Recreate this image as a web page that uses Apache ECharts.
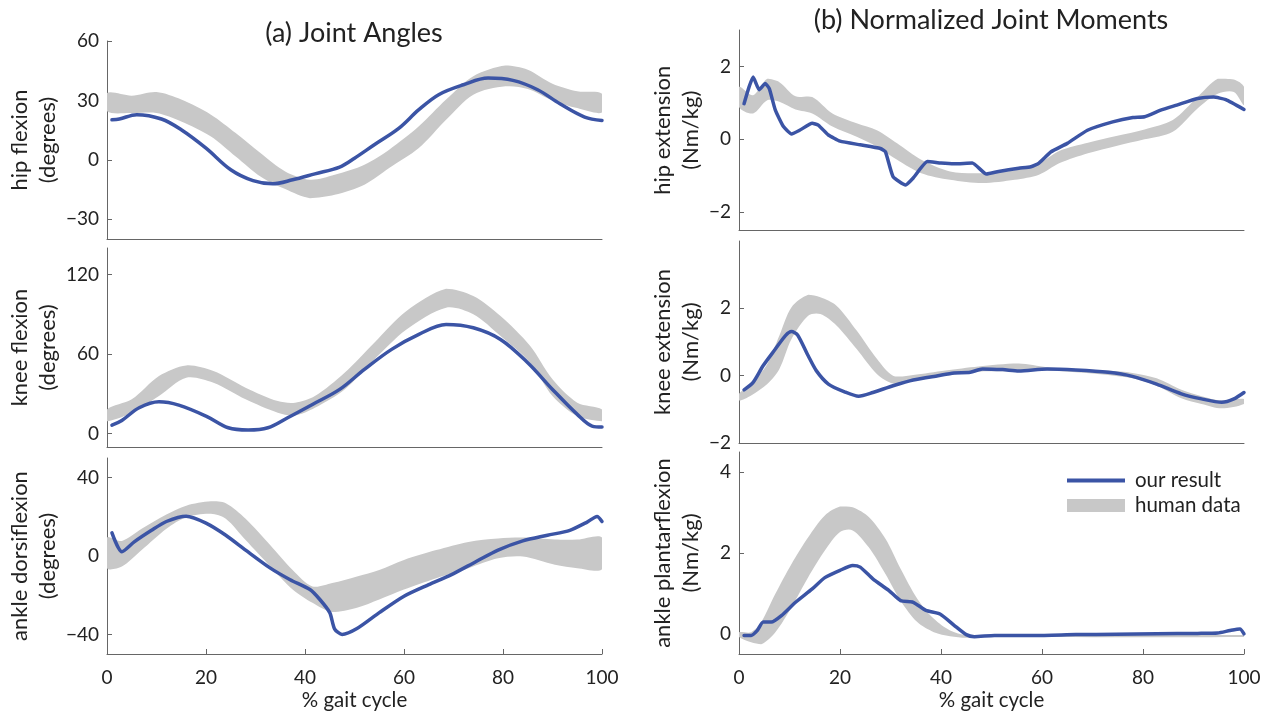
<!DOCTYPE html>
<html><head><meta charset="utf-8">
<script src="https://cdn.jsdelivr.net/npm/echarts@6/dist/echarts.min.js"></script>
<style>html,body{margin:0;padding:0;background:#fff}#c{width:1265px;height:713px}</style>
</head><body><div id="c"></div>
<script>
// ---------- data ----------
const xTicks = [0, 20, 40, 60, 80, 100];

// (a) hip flexion
const hipFlexTicks = [-30, 0, 30, 60];
const hipFlexX = [1,2.5,6,11,15,20,25,29.5,33.5,37.5,42,47,50,54,59,63,67,72,77,82,87,91.5,96.5,100];
const hipFlexOurs = [20.2,20.6,22.8,20.6,15.2,5.9,-5,-10.5,-12.1,-10.1,-7.1,-3.7,0.8,7.6,16,25.3,32.9,37.9,41.3,40.1,35.4,28.3,21.6,19.9];
const hipFlexBandX = [0,5,10,15,21,26,31,36,41,46,52,57,63,68.5,74,80.5,85,90,95,100];
const hipFlexHi = [33.7,32.4,34.2,30.4,22.8,13.5,3.4,-5.9,-10.1,-7.6,-2.5,5.1,16.9,30.4,42.2,47.6,45.5,38.4,34.6,33.4];
const hipFlexLo = [24.5,23.6,23.6,19.4,11.8,1.7,-8.4,-14.8,-19.4,-17.7,-12.6,-4.2,5.9,20.2,32.9,37.1,35.8,30,26.1,23.9];

// (a) knee flexion
const kneeFlexTicks = [0, 60, 120];
const kneeFlexX = [1,3,6.5,10.5,14.5,20,24.5,28.5,32.5,36.5,41.5,47,52,57.5,63,68.5,74,79.5,85,90,95,98,100];
const kneeFlexOurs = [6.5,10,19.6,24.1,21.6,13.3,4.5,2.8,4.5,12.1,22.1,33.4,48.5,63.6,74.9,82.4,79.9,71.1,53.5,33.4,14.6,5.8,5];
const kneeFlexBandX = [0,5,10.5,16,21.5,28,34.5,38,42,48,54,60.5,68.5,74,79.5,85.5,90,95,100];
const kneeFlexHi = [18.3,25.9,43.5,51.5,47.2,34.7,24.6,23.4,28.4,46,68.6,92.5,109.3,103.8,88.7,66.1,41,23.4,18.3];
const kneeFlexLo = [9.5,15.8,28.4,42.2,38.4,25.9,15.8,13.8,19.6,33.4,56,78.6,95,90,73.6,53.5,28.4,13.3,9.5];

// (a) ankle dorsiflexion
const ankDorsTicks = [-40, 0, 40];
const ankDorsX = [1,3,5.5,9,12,16,20,24,28,33,37,41,43,45,46,47.5,50.5,55,60,65,69.5,74.5,79,84,89,93.5,97,99,100];
const ankDorsOurs = [11.8,2.2,7.2,13.1,17.6,20.3,16.8,10.6,3,-6.2,-12.1,-17.1,-22.2,-28.9,-37.3,-40,-37,-28.9,-20.5,-14.6,-9.6,-2.9,3,7.7,10.6,13.1,17.3,20.2,17.6];
const ankDorsBandX = [0,3,7,12,16,21,24,28,33,37.5,41.5,45.5,50.5,55,60,66.5,73,79,84,90.5,95,100];
const ankDorsHi = [9.4,7.7,13.9,21.2,25.7,27.9,26.9,19,5.5,-7.1,-15.5,-13.8,-10.4,-7.1,-2,3,7.2,8.9,9.4,8.4,8.4,9.4];
const ankDorsLo = [-6.2,-5.4,3,13.9,19.8,21.5,19,8.1,-5.4,-17.1,-23.9,-28.6,-26.4,-22.2,-17.1,-11.3,-6.2,-1.2,-0.3,-4.5,-6.2,-6.7];

// (b) hip extension
const hipExtTicks = [-2, 0, 2];
const hipExtX = [1,2,2.8,4,5.2,6,7.2,8.8,10.4,12,14.5,15.7,17.7,20,24,28,29,30.5,33,34.5,37.3,40,42.6,46.2,49,51.4,55.4,57.8,59.4,61.8,65,69,74,78,80.3,83.5,86.7,90.8,94,96.4,100];
const hipExtOurs = [0.98,1.44,1.71,1.36,1.53,1.39,0.8,0.35,0.15,0.25,0.44,0.39,0.12,-0.05,-0.15,-0.25,-0.34,-1.02,-1.25,-1.06,-0.61,-0.65,-0.67,-0.65,-0.95,-0.88,-0.79,-0.75,-0.65,-0.34,-0.11,0.25,0.48,0.6,0.62,0.8,0.94,1.12,1.16,1.09,0.82];
const hipExtBandX = [0,2.8,5.6,8,11.2,14.5,18.5,23.3,27.3,31.3,36.1,41.8,48.2,54.6,59.4,63.5,69.1,74.7,80.3,85.9,90.8,94.8,98,100];
const hipExtHi = [1.44,1.21,1.66,1.57,1.18,1.16,0.71,0.44,0.25,-0.11,-0.56,-0.88,-0.93,-0.84,-0.65,-0.31,-0.09,0.09,0.27,0.53,1.16,1.66,1.64,1.44];
const hipExtLo = [0.89,0.71,1.07,1.03,0.82,0.71,0.35,0.07,-0.2,-0.56,-0.93,-1.11,-1.2,-1.11,-0.97,-0.65,-0.38,-0.18,0,0.21,0.85,1.25,1.3,0.94];

// (b) knee extension
const kneeExtTicks = [-2, 0, 2];
const kneeExtX = [1,2.8,4.8,7.2,9.2,10.4,11.6,13.7,15.3,17.7,20.9,23.7,26.5,30.5,34.5,39.4,42.6,45.8,48.2,52.2,55.4,61,66.7,73.1,77.9,82.7,87.6,91.6,95.6,98,100];
const kneeExtOurs = [-0.42,-0.2,0.3,0.79,1.19,1.31,1.21,0.59,0.15,-0.25,-0.48,-0.61,-0.5,-0.3,-0.13,0,0.08,0.1,0.2,0.18,0.14,0.2,0.17,0.1,-0.02,-0.25,-0.54,-0.69,-0.79,-0.69,-0.5];
const kneeExtBandX = [0,2.4,5.6,8,10.4,13.7,16.1,19.3,23.3,27.3,30.5,34.5,40.9,47.4,55.4,61,66.7,73.1,77.9,82.7,87.6,91.6,95.6,100];
const kneeExtHi = [-0.54,-0.25,0.35,1.19,2.03,2.4,2.33,2.08,1.34,0.5,0,0.02,0.15,0.27,0.36,0.25,0.2,0.15,0.08,-0.08,-0.42,-0.61,-0.74,-0.69];
const kneeExtLo = [-0.74,-0.59,-0.25,0.2,1.09,1.78,1.83,1.49,0.79,0.05,-0.23,-0.15,0,0.12,0.12,0.15,0.1,0.02,-0.08,-0.3,-0.67,-0.84,-0.97,-0.84];

// (b) ankle plantarflexion
const ankPlanTicks = [0, 2, 4];
const ankPlanX = [1,2.4,3.6,4.8,6.4,8.4,11.2,14.5,17,20,22.5,24,26.5,29.7,32,34.5,37,39.8,42.6,45,46.6,50.6,58.6,66.7,74.7,82.7,90.8,94.8,97.2,99.2,100];
const ankPlanOurs = [-0.04,-0.04,0.08,0.29,0.29,0.45,0.78,1.11,1.39,1.57,1.69,1.65,1.36,1.07,0.82,0.78,0.58,0.49,0.21,-0.02,-0.07,-0.04,-0.04,-0.02,-0.01,0,0.01,0.02,0.08,0.12,0];
const ankPlanBandX = [0,2.4,4.4,7.2,10.4,13.7,17,20,22.5,25.7,29,32,35.3,38.6,41.8,45,48,100];
const ankPlanHi = [0.04,0.04,0.29,0.99,1.73,2.39,2.93,3.15,3.13,2.89,2.35,1.61,0.87,0.37,0.08,-0.04,-0.03,-0.03];
const ankPlanLo = [-0.08,-0.21,-0.26,0.04,0.66,1.4,2.06,2.52,2.56,2.14,1.48,0.82,0.29,0.04,-0.06,-0.1,-0.08,-0.08];

// ---------- layout / style ----------
const BLUE = '#3b54a5', GRAY = '#c8c8c8', AXIS = '#666', TXT = '#222';
const FONT = 'Lato';
const LEFT_COL = {left: 107, width: 495, gap: 44};
const RIGHT_COL = {left: 739, width: 505, gap: 34};

const panels = [
  {col: LEFT_COL, top: 41, height: 198, min: -40, max: 60, ticks: hipFlexTicks, name: 'hip flexion\n(degrees)',
   x: hipFlexX, ours: hipFlexOurs, bx: hipFlexBandX, hi: hipFlexHi, lo: hipFlexLo, bottom: false, smooth: 0.35},
  {col: LEFT_COL, top: 248, height: 199, min: -10, max: 140, ticks: kneeFlexTicks, name: 'knee flexion\n(degrees)',
   x: kneeFlexX, ours: kneeFlexOurs, bx: kneeFlexBandX, hi: kneeFlexHi, lo: kneeFlexLo, bottom: false, smooth: 0.35},
  {col: LEFT_COL, top: 458, height: 196, min: -50, max: 50, ticks: ankDorsTicks, name: 'ankle dorsiflexion\n(degrees)',
   x: ankDorsX, ours: ankDorsOurs, bx: ankDorsBandX, hi: ankDorsHi, lo: ankDorsLo, bottom: true, smooth: 0.25},
  {col: RIGHT_COL, top: 30, height: 200.5, min: -2.5, max: 3, ticks: hipExtTicks, name: 'hip extension\n(Nm/kg)',
   x: hipExtX, ours: hipExtOurs, bx: hipExtBandX, hi: hipExtHi, lo: hipExtLo, bottom: false, smooth: 0.15},
  {col: RIGHT_COL, top: 241, height: 202, min: -2, max: 4, ticks: kneeExtTicks, name: 'knee extension\n(Nm/kg)',
   x: kneeExtX, ours: kneeExtOurs, bx: kneeExtBandX, hi: kneeExtHi, lo: kneeExtLo, bottom: false, smooth: 0.25},
  {col: RIGHT_COL, top: 452, height: 202, min: -0.5, max: 4.5, ticks: ankPlanTicks, name: 'ankle plantarflexion\n(Nm/kg)',
   x: ankPlanX, ours: ankPlanOurs, bx: ankPlanBandX, hi: ankPlanHi, lo: ankPlanLo, bottom: true, smooth: 0.2}
];

const fmt = v => String(v).replace('-', '\u2212');

// band polygon drawn from the data through the axis scales
function bandRender(params, api) {
  if (params.dataIndexInside !== 0) return null;
  const n = params.dataInsideLength;
  const up = [], dn = [];
  for (let j = 0; j < n; j++) {
    up.push(api.coord([api.value(0, j), api.value(2, j)]));
    dn.push(api.coord([api.value(0, j), api.value(1, j)]));
  }
  const pts = up.concat(dn.reverse());
  let x0 = Infinity, y0 = Infinity, x1 = -Infinity, y1 = -Infinity;
  pts.forEach(q => { x0 = Math.min(x0, q[0]); y0 = Math.min(y0, q[1]); x1 = Math.max(x1, q[0]); y1 = Math.max(y1, q[1]); });
  return {
    type: 'polygon',
    shape: {points: pts, smooth: 0.3, smoothConstraint: [[x0, y0], [x1, y1]]},
    style: {fill: GRAY}
  };
}

const grid = [], xAxis = [], yAxis = [], series = [];
panels.forEach((p, i) => {
  grid.push({left: p.col.left, width: p.col.width, top: p.top, height: p.height, containLabel: false});
  xAxis.push({
    type: 'value', gridIndex: i, min: 0, max: 100, interval: 20,
    axisLine: {show: true, onZero: false, lineStyle: {color: AXIS, width: 1}},
    axisTick: {show: p.bottom, inside: true, length: 5, lineStyle: {color: AXIS}},
    axisLabel: {show: p.bottom, margin: 14, fontSize: 19, color: TXT, fontFamily: FONT, customValues: xTicks},
    splitLine: {show: false},
    name: p.bottom ? '% gait cycle' : '', nameLocation: 'middle', nameGap: 36,
    nameTextStyle: {fontSize: 20.5, color: TXT, fontFamily: FONT}
  });
  yAxis.push({
    type: 'value', gridIndex: i, min: p.min, max: p.max,
    axisLine: {show: true, onZero: false, lineStyle: {color: AXIS, width: 1}},
    axisTick: {show: true, inside: true, length: 5, lineStyle: {color: AXIS}, customValues: p.ticks},
    axisLabel: {margin: 8, fontSize: 19, color: TXT, fontFamily: FONT, customValues: p.ticks, formatter: fmt},
    splitLine: {show: false},
    name: p.name, nameLocation: 'middle', nameRotate: 90, nameGap: p.col.gap,
    nameTextStyle: {fontSize: 22, lineHeight: 28, color: TXT, fontFamily: FONT, align: 'center'}
  });
  series.push({
    type: 'custom', name: 'human data', xAxisIndex: i, yAxisIndex: i,
    data: p.bx.map((x, k) => [x, p.lo[k], p.hi[k]]),
    encode: {x: 0, y: [1, 2]},
    renderItem: bandRender, clip: true,
    itemStyle: {color: GRAY}, silent: true, z: 1
  });
  series.push({
    type: 'line', name: 'our result', xAxisIndex: i, yAxisIndex: i,
    data: p.x.map((x, k) => [x, p.ours[k]]), symbol: 'none', smooth: p.smooth,
    color: BLUE, lineStyle: {color: BLUE, width: 3.5, cap: 'round', join: 'round'}, silent: true, z: 3
  });
});

const chart = echarts.init(document.getElementById('c'), null, {renderer: 'canvas'});
chart.setOption({
  animation: false,
  backgroundColor: '#fff',
  textStyle: {fontFamily: FONT},
  title: [
    {text: '(a) Joint Angles', left: 354, top: 20, padding: 0, textAlign: 'center',
     textStyle: {fontSize: 27, fontWeight: 'normal', color: TXT, fontFamily: FONT}},
    {text: '(b) Normalized Joint Moments', left: 991, top: 7, padding: 0, textAlign: 'center',
     textStyle: {fontSize: 27, fontWeight: 'normal', color: TXT, fontFamily: FONT}}
  ],
  legend: [
    {data: [{name: 'our result', icon: 'rect', itemStyle: {color: BLUE}}], left: 1067, top: 470, padding: 0,
     itemWidth: 58, itemHeight: 4, selectedMode: false, textStyle: {fontSize: 20.5, color: TXT, fontFamily: FONT, padding: [0,0,0,5]}},
    {data: [{name: 'human data', icon: 'rect', itemStyle: {color: GRAY}}], left: 1067, top: 495, padding: 0,
     itemWidth: 58, itemHeight: 13, selectedMode: false, textStyle: {fontSize: 20.5, color: TXT, fontFamily: FONT, padding: [0,0,0,5]}}
  ],
  grid, xAxis, yAxis, series
});
</script>
</body></html>
